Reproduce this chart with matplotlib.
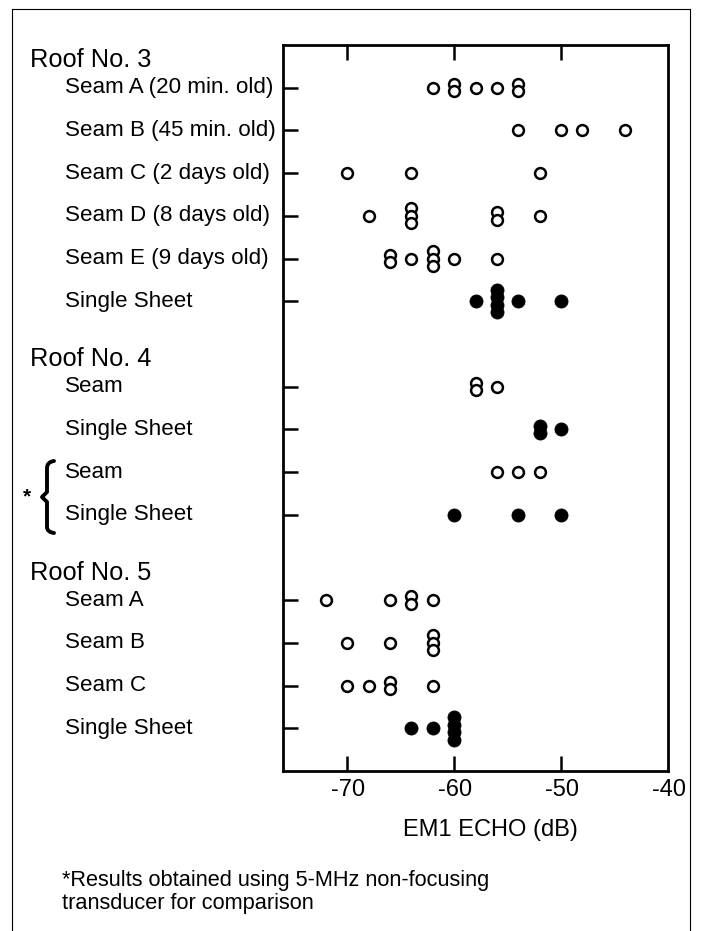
import matplotlib
matplotlib.use("Agg")
import matplotlib.pyplot as plt
from matplotlib.transforms import blended_transform_factory, Affine2D
from matplotlib.path import Path
from matplotlib.patches import PathPatch
from matplotlib.lines import Line2D

plt.rcParams['font.family'] = ['Liberation Sans', 'DejaVu Sans']

# ---- data ----
groups = ["Roof No. 3", "Roof No. 4", "Roof No. 5"]
roof3_labels = ["Seam A (20 min. old)", "Seam B (45 min. old)", "Seam C (2 days old)",
                "Seam D (8 days old)", "Seam E (9 days old)", "Single Sheet"]
roof3_values = [
    [-62, -60, -60, -58, -56, -54, -54],
    [-54, -50, -48, -44],
    [-70, -64, -52],
    [-68, -64, -64, -64, -56, -56, -52],
    [-66, -66, -64, -62, -62, -62, -60, -56],
    [-58, -56, -56, -56, -56, -54, -50],
]
roof3_filled = [False, False, False, False, False, True]

roof4_labels = ["Seam", "Single Sheet", "Seam", "Single Sheet"]
roof4_values = [
    [-58, -58, -56],
    [-52, -52, -50],
    [-56, -54, -52],
    [-60, -54, -50],
]
roof4_filled = [False, True, False, True]

roof5_labels = ["Seam A", "Seam B", "Seam C", "Single Sheet"]
roof5_values = [
    [-72, -66, -64, -64, -62],
    [-70, -66, -62, -62, -62],
    [-70, -68, -66, -66, -62],
    [-64, -62, -60, -60, -60, -60],
]
roof5_filled = [False, False, False, True]

x_ticks = [-70, -60, -50, -40]
x_label = "EM1 ECHO (dB)"
footnote = "*Results obtained using 5-MHz non-focusing\ntransducer for comparison"

# ---- figure ----
W, H = 701, 931
fig = plt.figure(figsize=(W / 100, H / 100), dpi=100)
ax = fig.add_axes([283 / W, 1 - 771 / H, (668 - 283) / W, (771 - 45) / H])

all_groups = [
    (roof3_labels, roof3_values, roof3_filled),
    (roof4_labels, roof4_values, roof4_filled),
    (roof5_labels, roof5_values, roof5_filled),
]

stack_step = 0.175
row = 0
row_pos = []
header_pos = []
for gi, (labels, values, filled) in enumerate(all_groups):
    if gi > 0:
        row += 1
    header_pos.append(row)
    for lab, vals, fl in zip(labels, values, filled):
        counts = {}
        for v in vals:
            counts[v] = counts.get(v, 0) + 1
        for v, n in counts.items():
            for i in range(n):
                y = row + (i - (n - 1) / 2) * stack_step
                if fl:
                    ax.plot(v, y, 'o', ms=9.4, mfc='black', mec='black', mew=0.6, zorder=3)
                else:
                    ax.plot(v, y, 'o', ms=7.8, mfc='white', mec='black', mew=1.8, zorder=3)
        row_pos.append(row)
        row += 1

ax.set_xlim(-76, -40)
ax.set_ylim(row, -1)

ax.set_yticks(row_pos)
ax.set_yticklabels([])
ax.set_xticks(x_ticks[:-1])
ax.set_xticklabels([])
ax.tick_params(axis='y', direction='in', length=11, width=1.8, left=True, right=False)
ax.tick_params(axis='x', direction='in', length=11, width=1.8, top=True, bottom=True)
for s in ax.spines.values():
    s.set_linewidth(2.0)

# tick labels (x)
tr_x = blended_transform_factory(ax.transData, fig.transFigure)
for t in x_ticks:
    ax.text(t + 0.1, 1 - 790 / H, f"{t}", transform=tr_x, ha='center', va='center', fontsize=17)

fig.text(490 / W, 1 - 830 / H, x_label, ha='center', va='center', fontsize=17)
fig.text(62 / W, 1 - 892 / H, footnote, ha='left', va='center', fontsize=15.7, linespacing=1.1)

# row labels
tr_y = blended_transform_factory(fig.transFigure, ax.transData)
all_labels = roof3_labels + roof4_labels + roof5_labels
for lab, rp in zip(all_labels, row_pos):
    fig.text(65 / W, rp, lab, transform=tr_y, ha='left', va='center', fontsize=16.1)
for g, hp in zip(groups, header_pos):
    fig.text(30 / W, hp - 0.64, g, transform=tr_y, ha='left', va='center', fontsize=18.3)

# pixel transform for decorations
px = Affine2D().scale(1 / W, -1 / H).translate(0, 1) + fig.transFigure

# brace
verts = [(54, 461), (47, 462), (47, 468), (47, 474),
         (47, 480), (47, 492), (47, 492), (42, 497),
         (47, 502), (47, 502), (47, 514), (47, 520),
         (47, 527), (47, 532), (54, 533)]
codes = [Path.MOVETO, Path.CURVE3, Path.CURVE3, Path.LINETO,
         Path.LINETO, Path.LINETO, Path.CURVE3, Path.CURVE3,
         Path.CURVE3, Path.CURVE3, Path.LINETO, Path.LINETO,
         Path.LINETO, Path.CURVE3, Path.CURVE3]
fig.add_artist(PathPatch(Path(verts, codes), transform=px, fill=False, lw=2.8,
                         edgecolor='black', capstyle='round', joinstyle='round'))
fig.text(27 / W, 1 - 497 / H, "*", ha='center', va='center', fontsize=15, fontweight='bold')

# outer frame
for xs, ys in [([12, 12], [9, 931]), ([12, 690], [9, 9]), ([690, 690], [9, 931])]:
    fig.add_artist(Line2D(xs, ys, transform=px, color='black', lw=0.8))

fig.savefig("out.png", dpi=100)
